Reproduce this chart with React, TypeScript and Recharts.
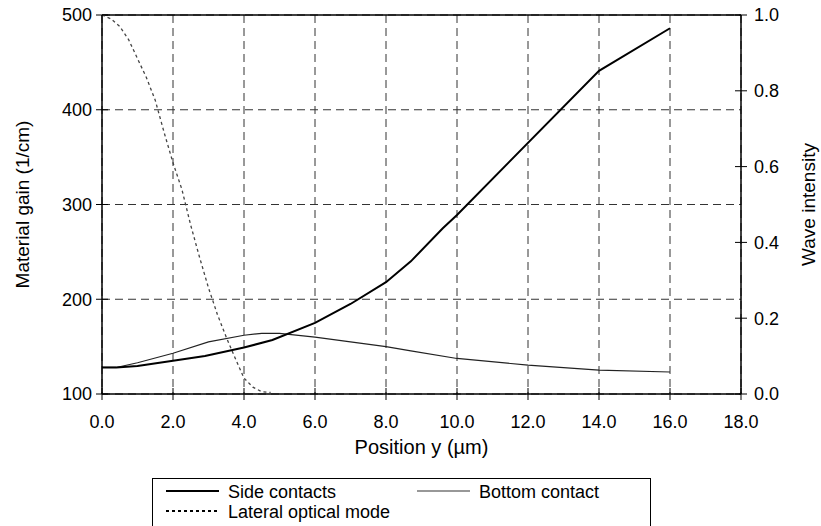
import { LineChart, Line, XAxis, YAxis, CartesianGrid, ReferenceLine } from "recharts";

// Position y (µm) and material gain (1/cm) for the two contact layouts
const sideX = [0, 0.4, 1, 2, 2.9, 4, 4.8, 6, 7, 8, 8.7, 9.6, 10, 14, 16];
const sideGain = [128, 128, 129.5, 135, 140, 149, 157, 175, 195, 218, 240, 275, 289, 441, 486];

const bottomX = [0, 0.4, 1, 2, 3, 4, 4.5, 5, 6, 7, 8, 8.7, 10, 12, 14, 16];
const bottomGain = [128, 128, 133, 143, 155, 162, 164, 164, 160, 155, 150, 145.5, 137.5, 130.5, 125.3, 123.2];

// Lateral optical mode, wave intensity on the right axis
const modeX = [0, 0.25, 0.5, 0.75, 1, 1.25, 1.5, 1.75, 2, 2.25, 2.5, 2.75, 3, 3.25, 3.5, 3.75, 4, 4.25, 4.5, 4.75];
const modeIntensity = [1.0, 0.99, 0.97, 0.935, 0.885, 0.835, 0.775, 0.69, 0.61, 0.54, 0.445, 0.36, 0.28, 0.21, 0.15, 0.095, 0.042, 0.018, 0.006, 0.004];

const xTicks = [0, 2, 4, 6, 8, 10, 12, 14, 16, 18];
const gainTicks = [100, 200, 300, 400, 500];
const intensityTicks = [0, 0.2, 0.4, 0.6, 0.8, 1.0];

const toPoints = (xs: number[], ys: number[]) => xs.map((x, i) => ({ x, y: ys[i] }));

const sideData = toPoints(sideX, sideGain);
const bottomData = toPoints(bottomX, bottomGain);
const modeData = toPoints(modeX, modeIntensity);

const FONT = "'Liberation Sans', Arial, sans-serif";

const legendItems = [
    { label: "Side contacts", width: 2, color: "#000", dash: undefined as string | undefined },
    { label: "Bottom contact", width: 1.2, color: "#333", dash: undefined as string | undefined },
    { label: "Lateral optical mode", width: 2, color: "#000", dash: "3 3" },
];

const LeftTick = (props: any) => {
    const { x, y, payload } = props;
    const ax = x + 10;
    return (
        <g>
            <line x1={ax - 6} x2={ax + 6} y1={y} y2={y} stroke="#000" />
            <text x={x} y={y} dy="0.35em" textAnchor="end" fontSize={18} fontFamily={FONT} fill="#000">
                {payload.value}
            </text>
        </g>
    );
};

const RightTick = (props: any) => {
    const { x, y, payload } = props;
    const ax = x - 13;
    return (
        <g>
            <line x1={ax - 6} x2={ax + 6} y1={y} y2={y} stroke="#000" />
            <text x={x} y={y} dy="0.35em" textAnchor="start" fontSize={18} fontFamily={FONT} fill="#000">
                {Number(payload.value).toFixed(1)}
            </text>
        </g>
    );
};

const BottomTick = (props: any) => {
    const { x, y, payload } = props;
    const ay = y - 21;
    return (
        <g>
            <line x1={x} x2={x} y1={ay - 6} y2={ay + 6} stroke="#000" />
            <text x={x} y={y} dy="0.71em" textAnchor="middle" fontSize={18} fontFamily={FONT} fill="#000">
                {Number(payload.value).toFixed(1)}
            </text>
        </g>
    );
};

export default function App() {
    return (
        <div style={{ position: "absolute", left: 0, top: 0, width: 821, height: 526, overflow: "hidden", background: "#fff" }}>
            <LineChart
                width={821}
                height={526}
                margin={{ top: 15, right: 20, bottom: 72, left: 42 }}
                style={{ fontFamily: FONT }}
            >
                <CartesianGrid yAxisId="left" stroke="#333" strokeDasharray="8 5" />
                <XAxis
                    dataKey="x"
                    type="number"
                    domain={[0, 18]}
                    ticks={xTicks}
                    height={60}
                    tickSize={6}
                    tickMargin={15}
                    tickLine={false}
                    tick={<BottomTick />}
                    axisLine={{ stroke: "#000", strokeWidth: 1.5 }}
                    label={{ value: "Position y (µm)", position: "insideBottom", offset: 0, fontSize: 20, fill: "#000" }}
                />
                <YAxis
                    yAxisId="left"
                    domain={[100, 500]}
                    ticks={gainTicks}
                    width={60}
                    tickSize={6}
                    tickMargin={4}
                    tickLine={false}
                    tick={<LeftTick />}
                    axisLine={{ stroke: "#000", strokeWidth: 1.5 }}
                    label={{ value: "Material gain (1/cm)", angle: -90, position: "center", dx: -50, fontSize: 19, fill: "#000" }}
                />
                <YAxis
                    yAxisId="right"
                    orientation="right"
                    domain={[0, 1]}
                    ticks={intensityTicks}
                    width={60}
                    tickSize={6}
                    tickMargin={7}
                    tickLine={false}
                    tick={<RightTick />}
                    axisLine={{ stroke: "#000", strokeWidth: 1.5 }}
                    label={{ value: "Wave intensity", angle: -90, position: "center", dx: 37, fontSize: 19, fill: "#000" }}
                />
                <ReferenceLine yAxisId="left" y={500} stroke="#000" strokeWidth={1.5} />
                <Line
                    yAxisId="left"
                    data={bottomData}
                    dataKey="y"
                    type="linear"
                    stroke="#222"
                    strokeWidth={1.2}
                    dot={false}
                    isAnimationActive={false}
                />
                <Line
                    yAxisId="left"
                    data={sideData}
                    dataKey="y"
                    type="linear"
                    stroke="#000"
                    strokeWidth={2}
                    dot={false}
                    isAnimationActive={false}
                />
                <Line
                    yAxisId="right"
                    data={modeData}
                    dataKey="y"
                    type="linear"
                    stroke="#444"
                    strokeWidth={1.3}
                    strokeDasharray="3 3"
                    dot={false}
                    isAnimationActive={false}
                />
            </LineChart>

            {/* legend box under the chart, its bottom edge runs off the page */}
            <div
                style={{
                    position: "absolute",
                    left: 152,
                    top: 478,
                    width: 497,
                    height: 60,
                    borderTop: "1px solid #000",
                    borderLeft: "1px solid #000",
                    borderRight: "1px solid #000",
                    fontFamily: FONT,
                    fontSize: 18,
                }}
            >
                <svg width={497} height={60} style={{ display: "block" }}>
                    {legendItems.map((item, i) => {
                        const col = i === 1 ? 1 : 0;
                        const row = i === 2 ? 1 : 0;
                        const lx = 13 + col * 251;
                        const ly = 12 + row * 20;
                        return (
                            <g key={item.label}>
                                <line
                                    x1={lx}
                                    x2={lx + 53}
                                    y1={ly}
                                    y2={ly}
                                    stroke={item.color}
                                    strokeWidth={item.width}
                                    strokeDasharray={item.dash}
                                />
                                <text x={lx + 62} y={ly + 7} fontSize={18} fontFamily={FONT} fill="#000">
                                    {item.label}
                                </text>
                            </g>
                        );
                    })}
                </svg>
            </div>
        </div>
    );
}
